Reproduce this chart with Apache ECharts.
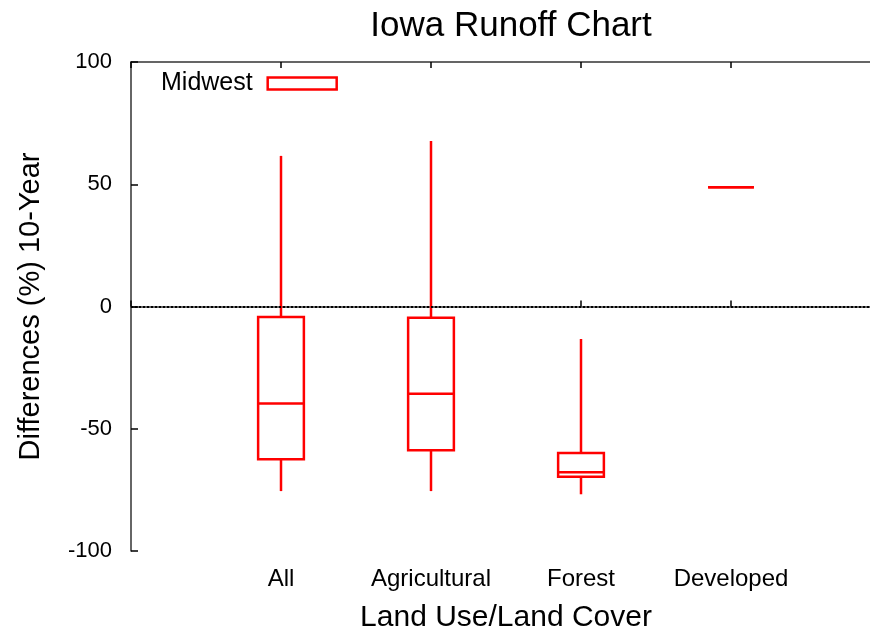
<!DOCTYPE html>
<html>
<head>
<meta charset="utf-8">
<script src="https://cdn.jsdelivr.net/npm/echarts@6/dist/echarts.min.js"></script>
<style>html,body{margin:0;padding:0;background:#fff}#c{width:870px;height:630px}</style>
</head>
<body>
<div id="c"></div>
<script>
const categories = ['', 'All', 'Agricultural', 'Forest', 'Developed', ''];
const positions = [1, 2, 3, 4];
const whiskerLow = [-75.5, -75.5, -76.8, 48.8];
const boxLow = [-62.5, -58.8, -69.6, 48.8];
const medians = [-39.7, -35.7, -67.8, 48.8];
const boxHigh = [-4.3, -4.6, -59.9, 48.8];
const whiskerHigh = [61.6, 67.7, -13.3, 48.8];
const yTicks = [-100, -50, 0, 50, 100];

const data = positions.map((p, i) => [p, whiskerLow[i], boxLow[i], medians[i], boxHigh[i], whiskerHigh[i]]);
const FONT = 'Liberation Sans, Arial, sans-serif';
const RED = '#ff0000';

const chart = echarts.init(document.getElementById('c'));
chart.setOption({
  animation: false,
  backgroundColor: '#fff',
  title: {
    text: 'Iowa Runoff Chart',
    left: 506, top: 4, textAlign: 'center',
    textStyle: {fontFamily: FONT, fontSize: 35, fontWeight: 'normal', color: '#000'}
  },
  legend: {
    left: 156, top: 66, align: 'right',
    itemWidth: 69, itemHeight: 12, itemGap: 10,
    textStyle: {fontFamily: FONT, fontSize: 25, color: '#000', padding: [0, 10, 0, 0]},
    data: [{name: 'Midwest', icon: 'rect', itemStyle: {color: '#fff', borderColor: RED, borderWidth: 2.5}}]
  },
  grid: {left: 131, top: 62, width: 750, height: 489, containLabel: false, outerBoundsMode: 'none'},
  xAxis: [{
    type: 'value', min: 0, max: 5, interval: 1,
    name: 'Land Use/Land Cover', nameLocation: 'middle', nameGap: 52,
    nameTextStyle: {fontFamily: FONT, fontSize: 30, color: '#000'},
    axisLine: {show: true, lineStyle: {color: '#333', width: 1.5}},
    axisTick: {show: true, inside: false, length: -6, lineStyle: {color: '#000', width: 1.5}},
    axisLabel: {fontFamily: FONT, fontSize: 24, color: '#000', margin: 16,
      formatter: v => categories[v] || ''},
    splitLine: {show: false}
  }, {
    type: 'value', min: 0, max: 5, interval: 1, position: 'top',
    axisLine: {show: true, lineStyle: {color: '#333', width: 1.5}},
    axisTick: {show: true, inside: false, length: -6, lineStyle: {color: '#000', width: 1.5}},
    axisLabel: {show: false},
    splitLine: {show: false}
  }],
  yAxis: {
    type: 'value', min: yTicks[0], max: yTicks[yTicks.length - 1], interval: 50,
    name: 'Differences (%) 10-Year', nameLocation: 'middle', nameGap: 86,
    nameTextStyle: {fontFamily: FONT, fontSize: 29, color: '#000'},
    axisLine: {show: true, lineStyle: {color: '#333', width: 1.5}},
    axisTick: {show: true, inside: false, length: -7, lineStyle: {color: '#000', width: 1.5}},
    axisLabel: {fontFamily: FONT, fontSize: 22, color: '#000', margin: 19},
    splitLine: {show: false}
  },
  series: [{
    name: 'Midwest',
    type: 'custom',
    data: data,
    itemStyle: {color: '#fff', borderColor: RED, borderWidth: 2.5},
    renderItem: function (params, api) {
      const x = api.value(0);
      const pLow = api.coord([x, api.value(1)]);
      const pQ1 = api.coord([x, api.value(2)]);
      const pMed = api.coord([x, api.value(3)]);
      const pQ3 = api.coord([x, api.value(4)]);
      const pHigh = api.coord([x, api.value(5)]);
      const hw = api.size([0.305, 0])[0] / 2;
      const st = {stroke: RED, lineWidth: 2.5, fill: null};
      return {
        type: 'group',
        children: [
          {type: 'line', shape: {x1: pHigh[0], y1: pHigh[1], x2: pQ3[0], y2: pQ3[1]}, style: st},
          {type: 'line', shape: {x1: pQ1[0], y1: pQ1[1], x2: pLow[0], y2: pLow[1]}, style: st},
          {type: 'rect', shape: {x: pQ3[0] - hw, y: pQ3[1], width: hw * 2, height: pQ1[1] - pQ3[1]}, style: st},
          {type: 'line', shape: {x1: pMed[0] - hw, y1: pMed[1], x2: pMed[0] + hw, y2: pMed[1]}, style: st}
        ]
      };
    },
    markLine: {
      silent: true, symbol: 'none',
      label: {show: false},
      lineStyle: {type: [2, 2], color: '#000', width: 2},
      data: [{yAxis: 0}]
    }
  }]
});
</script>
</body>
</html>
